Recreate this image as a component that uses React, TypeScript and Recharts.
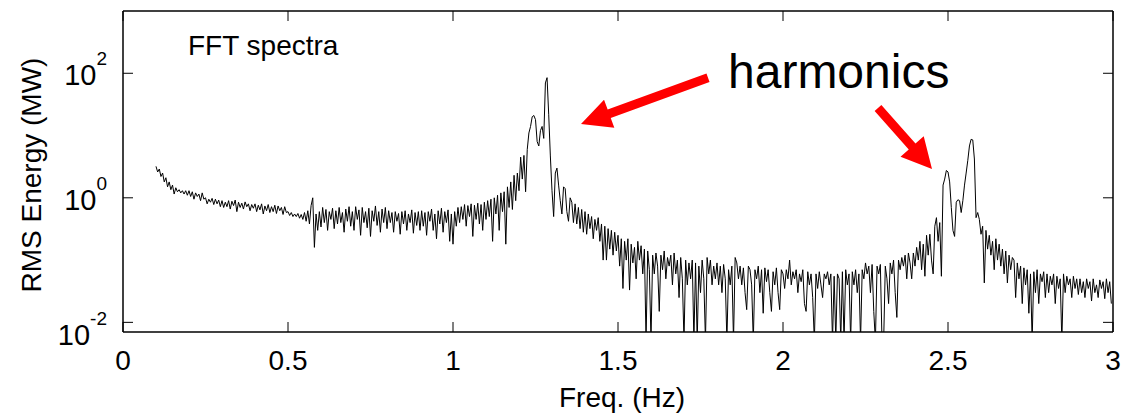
import { LineChart, Line, XAxis, YAxis } from "recharts";

const FONT = "'Liberation Sans', Arial, sans-serif";
const STEP = 0.005;
const PLOT_TOP = 11;
const PLOT_RIGHT = 1113;

// RMS energy (MW), one value every 0.005 Hz
// 0.100 – 0.595 Hz
const lowBand = [
  3.2, 2.6, 2.9, 2.2, 2.5, 1.8, 2.1, 1.5, 1.8, 1.35, 1.6, 1.15, 1.45, 1.25, 1.35, 1.2, 1.3, 1.15, 1.3, 1.1,
  1.3, 1.05, 1.25, 0.95, 1.2, 1.05, 1.15, 0.9, 1.2, 0.95, 1.0, 0.8, 0.95, 0.85, 0.98, 0.78, 0.95, 0.8, 0.92, 0.72,
  0.9, 0.7, 0.85, 0.72, 0.9, 0.66, 0.88, 0.75, 0.92, 0.6, 0.85, 0.7, 0.82, 0.66, 0.86, 0.72, 0.8, 0.62, 0.78, 0.68,
  0.8, 0.6, 0.76, 0.64, 0.8, 0.55, 0.74, 0.62, 0.78, 0.58, 0.72, 0.6, 0.76, 0.56, 0.74, 0.62, 0.7, 0.54, 0.72, 0.58,
  0.6, 0.52, 0.58, 0.5, 0.55, 0.5, 0.56, 0.47, 0.54, 0.45, 0.58, 0.42, 0.62, 0.38, 0.75, 1.0, 0.16, 0.55, 0.3, 0.6,
];

// 0.600 – 1.195 Hz
const preFirst = [
  0.34, 0.7, 0.4, 0.65, 0.3, 0.6, 0.45, 0.68, 0.32, 0.62, 0.38, 0.7, 0.4, 0.58, 0.28, 0.66, 0.42, 0.72, 0.35, 0.6,
  0.3, 0.72, 0.45, 0.64, 0.25, 0.7, 0.4, 0.6, 0.33, 0.68, 0.24, 0.62, 0.42, 0.74, 0.36, 0.6, 0.28, 0.66, 0.4, 0.7,
  0.32, 0.62, 0.4, 0.58, 0.28, 0.6, 0.42, 0.56, 0.26, 0.6, 0.38, 0.62, 0.3, 0.55, 0.4, 0.64, 0.27, 0.58, 0.36, 0.6,
  0.3, 0.62, 0.35, 0.58, 0.25, 0.6, 0.42, 0.66, 0.3, 0.55, 0.22, 0.62, 0.38, 0.68, 0.28, 0.6, 0.4, 0.64, 0.2, 0.55,
  0.18, 0.6, 0.35, 0.7, 0.4, 0.72, 0.45, 0.78, 0.35, 0.75, 0.5, 0.8, 0.24, 0.76, 0.45, 0.82, 0.38, 0.78, 0.3, 0.85,
  0.45, 0.9, 0.5, 0.95, 0.2, 1.0, 0.55, 1.1, 0.3, 1.2, 0.6, 1.25, 0.18, 1.5, 0.7, 1.8, 0.65, 2.3, 0.9, 2.5,
];

// 1.200 – 1.395 Hz
const firstHarmonic = [
  1.3, 4.5, 2.0, 4.8, 1.25, 6, 11, 14, 20, 21, 18, 8, 6.8, 12, 14, 9, 70, 85, 22, 4.7,
  1.3, 0.5, 2.5, 3.0, 1.6, 0.9, 0.55, 1.5, 1.4, 0.6, 0.42, 1.0, 0.85, 0.4, 0.8, 0.38, 0.7, 0.32, 0.65, 0.28,
];

// 1.400 – 2.395 Hz
const midBand = [
  0.6, 0.26, 0.55, 0.32, 0.5, 0.22, 0.45, 0.3, 0.48, 0.2, 0.38, 0.1, 0.35, 0.1, 0.32, 0.15, 0.3, 0.12, 0.28, 0.14,
  0.25, 0.08, 0.22, 0.035, 0.2, 0.1, 0.22, 0.033, 0.18, 0.09, 0.16, 0.05, 0.2, 0.1, 0.17, 0.06, 0.15, 0.005, 0.14, 0.07,
  0.005, 0.12, 0.06, 0.13, 0.08, 0.015, 0.12, 0.07, 0.14, 0.05, 0.11, 0.08, 0.12, 0.04, 0.13, 0.06, 0.1, 0.025, 0.11, 0.05,
  0.005, 0.1, 0.04, 0.09, 0.05, 0.1, 0.005, 0.09, 0.005, 0.08, 0.03, 0.1, 0.05, 0.005, 0.11, 0.06, 0.1, 0.04, 0.08, 0.05,
  0.09, 0.04, 0.08, 0.03, 0.085, 0.05, 0.005, 0.07, 0.04, 0.08, 0.005, 0.11, 0.09, 0.05, 0.08, 0.04, 0.075, 0.03, 0.016, 0.08,
  0.07, 0.04, 0.005, 0.07, 0.05, 0.08, 0.03, 0.07, 0.014, 0.075, 0.045, 0.07, 0.03, 0.015, 0.065, 0.04, 0.075, 0.03, 0.016, 0.07,
  0.06, 0.035, 0.07, 0.05, 0.1, 0.04, 0.065, 0.05, 0.07, 0.03, 0.06, 0.045, 0.07, 0.02, 0.015, 0.065, 0.04, 0.06, 0.025, 0.005,
  0.06, 0.035, 0.065, 0.04, 0.025, 0.06, 0.05, 0.065, 0.04, 0.06, 0.005, 0.055, 0.005, 0.06, 0.05, 0.005, 0.065, 0.005, 0.07, 0.04,
  0.06, 0.005, 0.065, 0.04, 0.07, 0.03, 0.06, 0.005, 0.07, 0.05, 0.09, 0.06, 0.08, 0.03, 0.085, 0.015, 0.005, 0.08, 0.06, 0.085,
  0.005, 0.005, 0.08, 0.05, 0.02, 0.09, 0.06, 0.1, 0.03, 0.012, 0.1, 0.07, 0.11, 0.08, 0.12, 0.05, 0.13, 0.09, 0.05, 0.13,
];

// 2.400 – 2.695 Hz
const secondHarmonic = [
  0.08, 0.16, 0.1, 0.2, 0.07, 0.18, 0.055, 0.25, 0.12, 0.26, 0.1, 0.06, 0.35, 0.48, 0.2, 0.4, 0.055, 1.6, 2.0, 2.75,
  2.6, 1.8, 0.7, 0.3, 0.24, 0.85, 0.93, 0.9, 0.58, 0.9, 1.6, 2.5, 4, 6.8, 8.7, 8.5, 4.2, 0.48, 0.58, 0.45,
  0.26, 0.35, 0.043, 0.3, 0.15, 0.25, 0.12, 0.2, 0.07, 0.22, 0.1, 0.18, 0.08, 0.15, 0.06, 0.14, 0.043, 0.12, 0.07, 0.11,
];

// 2.700 – 2.995 Hz
const tailBand = [
  0.1, 0.025, 0.09, 0.05, 0.08, 0.02, 0.075, 0.04, 0.07, 0.014, 0.06, 0.005, 0.065, 0.03, 0.07, 0.02, 0.06, 0.045, 0.065, 0.025,
  0.06, 0.03, 0.055, 0.04, 0.06, 0.02, 0.055, 0.035, 0.05, 0.005, 0.06, 0.03, 0.055, 0.04, 0.05, 0.025, 0.055, 0.035, 0.05, 0.028,
  0.05, 0.03, 0.045, 0.025, 0.05, 0.035, 0.045, 0.022, 0.05, 0.03, 0.04, 0.025, 0.048, 0.035, 0.045, 0.024, 0.05, 0.03, 0.045, 0.02,
];

const bands: [number, number[]][] = [
  [0.1, lowBand],
  [0.6, preFirst],
  [1.2, firstHarmonic],
  [1.4, midBand],
  [2.4, secondHarmonic],
  [2.7, tailBand],
];

const xTicks = [0, 0.5, 1, 1.5, 2, 2.5, 3];
const yTicks = [0.01, 1, 100];

const data = bands.flatMap(([start, values]) =>
  values.map((p, i) => ({ f: Math.round((start + i * STEP) * 1000) / 1000, p }))
);

// bottom tick: inward mark on the bottom and on the top edge of the box
function BottomTick({ x, y, payload }: any) {
  return (
    <g>
      <line x1={x} y1={y} x2={x} y2={y - 10} stroke="#000" />
      <line x1={x} y1={PLOT_TOP} x2={x} y2={PLOT_TOP + 10} stroke="#000" />
      <text x={x} y={y + 38} textAnchor="middle" fontSize={28} fontFamily={FONT} fill="#000">
        {String(payload.value)}
      </text>
    </g>
  );
}

// left tick: inward mark on the left and on the right edge of the box
function LeftTick({ x, y, payload }: any) {
  const exp = Math.round(Math.log10(payload.value));
  const drop = exp < 0 ? 23 : 12;
  return (
    <g>
      <line x1={x} y1={y} x2={x + 10} y2={y} stroke="#000" />
      <line x1={PLOT_RIGHT} y1={y} x2={PLOT_RIGHT - 10} y2={y} stroke="#000" />
      <text x={x - 16} y={y + drop} textAnchor="end" fontSize={29} fontFamily={FONT} fill="#000">
        10
        <tspan dy={-20} fontSize={19}>
          {String(exp)}
        </tspan>
      </text>
    </g>
  );
}

function arrowPoints(tail: number[], tip: number[], shaft: number, head: number, len: number) {
  const dx = tip[0] - tail[0];
  const dy = tip[1] - tail[1];
  const d = Math.hypot(dx, dy);
  const ux = dx / d;
  const uy = dy / d;
  const nx = -uy;
  const ny = ux;
  const bx = tip[0] - ux * len;
  const by = tip[1] - uy * len;
  const pts = [
    [tail[0] + nx * shaft, tail[1] + ny * shaft],
    [bx + nx * shaft, by + ny * shaft],
    [bx + nx * head, by + ny * head],
    tip,
    [bx - nx * head, by - ny * head],
    [bx - nx * shaft, by - ny * shaft],
    [tail[0] - nx * shaft, tail[1] - ny * shaft],
  ];
  return pts.map((p) => p.join(",")).join(" ");
}

export default function App() {
  return (
    <div style={{ position: "absolute", left: 0, top: 0, width: 1124, height: 417, background: "#fff" }}>
      <LineChart width={1124} height={417} data={data} margin={{ top: 11, right: 11, left: 0, bottom: 0 }}>
        <XAxis
          dataKey="f"
          type="number"
          domain={[0, 3]}
          ticks={xTicks}
          interval={0}
          height={85}
          tickSize={0}
          tickMargin={0}
          tickLine={false}
          axisLine={{ stroke: "#000", strokeWidth: 1.5 }}
          tick={<BottomTick />}
        />
        <YAxis
          dataKey="p"
          type="number"
          scale="log"
          domain={[0.007, 1000]}
          allowDataOverflow
          ticks={yTicks}
          interval={0}
          width={123}
          tickSize={0}
          tickMargin={0}
          tickLine={false}
          axisLine={{ stroke: "#000", strokeWidth: 1.5 }}
          tick={<LeftTick />}
        />
        <Line
          dataKey="p"
          type="linear"
          stroke="#000"
          strokeWidth={1}
          dot={false}
          isAnimationActive={false}
        />
      </LineChart>
      <svg
        width={1124}
        height={417}
        style={{ position: "absolute", left: 0, top: 0, pointerEvents: "none" }}
      >
        <line x1={123} y1={PLOT_TOP} x2={PLOT_RIGHT} y2={PLOT_TOP} stroke="#000" strokeWidth={1.5} />
        <line x1={PLOT_RIGHT} y1={PLOT_TOP} x2={PLOT_RIGHT} y2={332} stroke="#000" strokeWidth={1.5} />
        <text x={622} y={407} textAnchor="middle" fontSize={28} fontFamily={FONT} fill="#000">
          Freq. (Hz)
        </text>
        <text
          x={41}
          y={175}
          transform="rotate(-90 41 175)"
          textAnchor="middle"
          fontSize={28}
          fontFamily={FONT}
          fill="#000"
        >
          RMS Energy (MW)
        </text>
        <text x={188} y={55} fontSize={28} fontFamily={FONT} fill="#000">
          FFT spectra
        </text>
        <text x={728} y={88} fontSize={48} fontFamily={FONT} fill="#000">
          harmonics
        </text>
        <polygon points={arrowPoints([708, 77.7], [581, 124], 4.5, 15, 30)} fill="#ff0000" />
        <polygon points={arrowPoints([878, 108], [932, 169], 4.5, 15.5, 30)} fill="#ff0000" />
      </svg>
    </div>
  );
}
